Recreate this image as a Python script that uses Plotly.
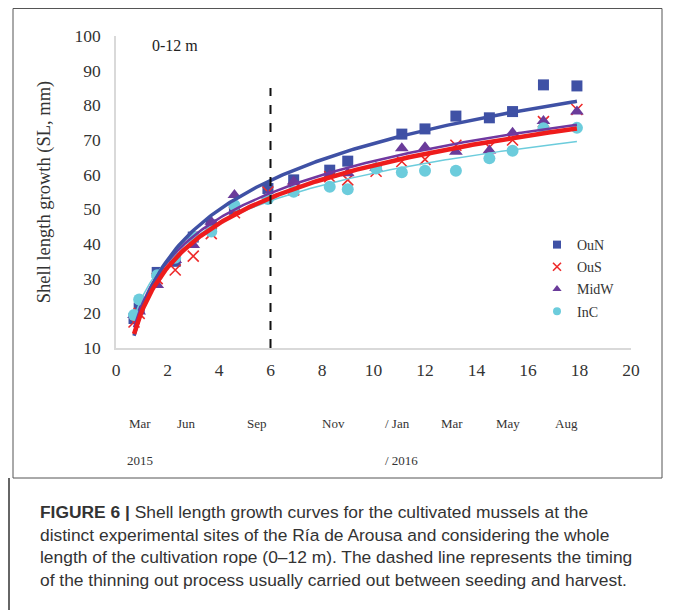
import numpy as np
import plotly.graph_objects as go

# ---- data ----
months = [0.7, 0.9, 1.6, 2.3, 3.0, 3.7, 4.6, 5.9, 6.9, 8.3, 9.0, 10.1, 11.1, 12.0, 13.2, 14.5, 15.4, 16.6, 17.9]
OuN = [18.5, 21.5, 31.8, 35.0, 42.0, 45.5, 50.0, 56.0, 58.5, 61.3, 63.9, None, 71.7, 73.2, 76.9, 76.4, 78.2, 85.9, 85.6]
OuS = [17.5, 20.0, 30.0, 32.5, 36.5, 43.0, 49.0, 55.0, 55.6, 59.4, 58.5, 61.0, 63.8, 64.4, 68.5, 67.9, 70.0, 75.3, 78.8]
MidW = [19.5, 20.5, 28.2, 35.4, 39.7, 46.4, 54.1, 54.0, 58.0, 59.9, 60.4, 62.0, 67.6, 67.9, 66.6, 67.0, 72.1, 75.5, 78.2]
InC = [19.5, 24.0, 31.0, 36.0, 42.0, 43.6, 51.2, 53.0, 55.1, 56.5, 55.8, 61.8, 60.7, 61.1, 61.1, 64.7, 66.9, 73.4, 73.5]

thinning_month = 6
thinning_top = 85

month_labels = ["Mar", "Jun", "Sep", "Nov", "/ Jan", "Mar", "May", "Aug"]
month_label_pos = [0.93, 2.72, 5.48, 8.43, 10.95, 13.05, 15.22, 17.51]
year_labels = ["2015", "/ 2016"]
year_label_pos = [0.93, 11.1]

series = [
    ("OuN", OuN, dict(symbol="square", color="#3F51A5"), 11, "#3F51A5", 3.5),
    ("OuS", OuS, dict(symbol="x-thin", color="#EE2A2A", line=dict(color="#EE2A2A", width=1.6)), 11, "#EE1C1C", 4.5),
    ("MidW", MidW, dict(symbol="triangle-up", color="#6A3B9A"), 12, "#7038A0", 2.5),
    ("InC", InC, dict(symbol="circle", color="#6CCCDC"), 12, "#6CCCDC", 1.5),
]

FONT_SERIF = "Liberation Serif, Times New Roman, serif"
OFF = 8  # page body margin
W, H = 675 - OFF, 610 - OFF
L, R, T, B = 116 - OFF, 44, 36 - OFF, 262
PW, PH = W - L - R, H - T - B


def px(xs):  # screen x -> paper
    return (xs - OFF - L) / PW


def py(ys):  # screen y -> paper
    return (H - B - (ys - OFF)) / PH


fig = go.Figure()

# markers
for i, (name, vals, mk, ms, lc, lw) in enumerate(series):
    fig.add_trace(go.Scatter(x=months, y=vals, mode="markers", name=name, marker=dict(mk, size=ms),
                             legendgroup=name, showlegend=False))

# logarithmic trendlines (least squares on ln x)
xs = np.linspace(min(months), max(months), 200)
for name, vals, mk, ms, lc, lw in [series[3], series[2], series[0], series[1]]:
    xv = np.array([m for m, v in zip(months, vals) if v is not None])
    yv = np.array([v for v in vals if v is not None])
    b, a = np.polyfit(np.log(xv), yv, 1)
    fig.add_trace(go.Scatter(x=xs, y=a + b * np.log(xs), mode="lines", showlegend=False,
                             line=dict(color=lc, width=lw), hoverinfo="skip"))

# thinning out dashed line
fig.add_trace(go.Scatter(x=[thinning_month, thinning_month], y=[10, thinning_top], mode="lines",
                         showlegend=False, line=dict(color="#111111", width=2, dash="dash")))

# legend entries (small symbols, like the reference)
for name, vals, mk, ms, lc, lw in series:
    fig.add_trace(go.Scatter(x=[None], y=[None], mode="markers", name=name,
                             marker=dict(mk, size=8), legendgroup=name))

annotations = []
for lab, pos in zip(month_labels, month_label_pos):
    annotations.append(dict(x=pos, xref="x", y=py(423), yref="paper", text=lab, showarrow=False,
                            xanchor="center", yanchor="middle",
                            font=dict(family=FONT_SERIF, size=13, color="#333333")))
for lab, pos in zip(year_labels, year_label_pos):
    annotations.append(dict(x=pos, xref="x", y=py(460), yref="paper", text=lab, showarrow=False,
                            xanchor="center", yanchor="middle",
                            font=dict(family=FONT_SERIF, size=13, color="#333333")))
annotations.append(dict(x=px(150), y=py(45), xref="paper", yref="paper", xanchor="left", yanchor="middle",
                        text="0-12 m", showarrow=False,
                        font=dict(family=FONT_SERIF, size=16, color="#222222")))
caption = ("<b>FIGURE 6 |</b> Shell length growth curves for the cultivated mussels at the<br>"
           "distinct experimental sites of the Ría de Arousa and considering the whole<br>"
           "length of the cultivation rope (0–12 m). The dashed line represents the timing<br>"
           "of the thinning out process usually carried out between seeding and harvest.")
annotations.append(dict(x=px(38), y=py(500), xref="paper", yref="paper", xanchor="left", yanchor="top",
                        text=caption, showarrow=False, align="left",
                        font=dict(family="Liberation Sans, Arial, sans-serif", size=17.4, color="#333333")))

shapes = [
    dict(type="rect", xref="paper", yref="paper", x0=px(13), x1=px(662), y0=py(478), y1=py(8.5),
         line=dict(color="#555555", width=1)),
    dict(type="line", xref="paper", yref="paper", x0=px(9), x1=px(9), y0=py(478), y1=py(612),
         line=dict(color="#333333", width=1.5)),
    dict(type="line", xref="paper", yref="paper", x0=px(672), x1=px(672), y0=py(478), y1=py(612),
         line=dict(color="#333333", width=1.5)),
]

fig.update_layout(
    width=W, height=H, margin=dict(l=L, r=R, t=T, b=B),
    paper_bgcolor="white", plot_bgcolor="white",
    font=dict(family=FONT_SERIF, size=16, color="#333333"),
    annotations=annotations, shapes=shapes,
    legend=dict(x=px(537), y=py(229), xanchor="left", yanchor="top", bgcolor="rgba(0,0,0,0)",
                font=dict(family=FONT_SERIF, size=14, color="#333333"),
                traceorder="grouped", tracegroupgap=1, itemwidth=30),
    xaxis=dict(range=[0, 20], dtick=2, showgrid=False, zeroline=False, showline=True,
               linecolor="#D9D9D9", linewidth=1.5, ticks="outside", ticklen=5, tickcolor="rgba(0,0,0,0)",
               tickfont=dict(family=FONT_SERIF, size=17.5, color="#333333")),
    yaxis=dict(range=[10, 100], dtick=10, showgrid=False, zeroline=False, showline=True,
               linecolor="#D9D9D9", linewidth=1.5, ticks="outside", ticklen=10, tickcolor="rgba(0,0,0,0)",
               tickfont=dict(family=FONT_SERIF, size=17.5, color="#333333"),
               title=dict(text="Shell length growth (SL, mm)", standoff=19,
                          font=dict(family=FONT_SERIF, size=18.5, color="#333333"))),
)

fig.write_html("out.html")
